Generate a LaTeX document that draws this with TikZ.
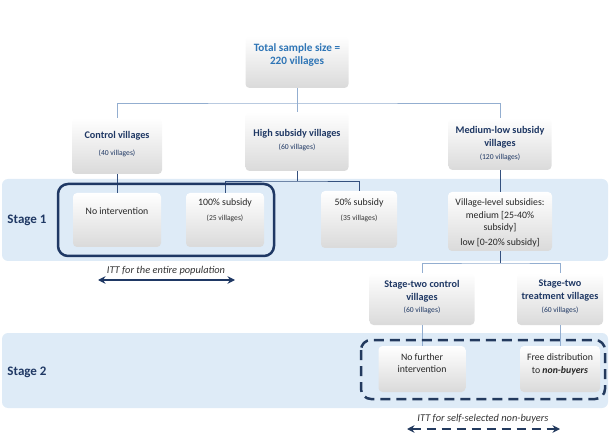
\documentclass[tikz,border=0pt]{standalone}
\usepackage{fontspec}
\setmainfont{Carlito}
\usetikzlibrary{arrows.meta}
\definecolor{navy}{HTML}{1F3864}
\definecolor{navydash}{HTML}{233A5E}
\definecolor{bandblue}{HTML}{DEEBF7}
\definecolor{totalblue}{HTML}{2E75B6}
\definecolor{boxgray}{HTML}{DADADA}
\definecolor{linklight}{HTML}{93AED0}
\definecolor{linkdark}{HTML}{34507E}
\tikzset{
  band/.style={fill=bandblue,rounded corners=6pt},
  vbox/.style={rounded corners=4pt,top color=white,middle color=white,bottom color=boxgray,inner sep=0pt},
  hdr/.style={font=\bfseries\fontsize{10.2}{13}\selectfont,text=navy,align=center,inner sep=0pt},
  sub/.style={font=\fontsize{7.6}{9}\selectfont,text=navy,inner sep=0pt},
  body/.style={font=\fontsize{9.8}{12.5}\selectfont,text=black!85,align=center,inner sep=0pt},
  stagelbl/.style={font=\bfseries\fontsize{13}{15}\selectfont,text=navy,inner sep=0pt},
  itt/.style={font=\itshape\fontsize{10.4}{12}\selectfont,text=black!80,inner sep=0pt},
  toplink/.style={draw=linklight,line width=.8pt},
  link/.style={draw=linkdark,line width=.8pt}
}
\begin{document}
\begin{tikzpicture}[x=1pt,y=-1pt,>={Stealth[length=7.5pt,width=7.5pt]}]
  \useasboundingbox (0,0) rectangle (610,438);
  % stage bands
  \fill[band] (2,179) rectangle (608,261);
  \fill[band] (2,333) rectangle (608,408);
  \node[stagelbl] (stageA) at (27,220) {Stage 1};
  \node[stagelbl] (stageB) at (27,372) {Stage 2};

  % top level
  \node[vbox,minimum width=103pt,minimum height=52pt] (total) at (297,62) {};
  \node[font=\bfseries\fontsize{11.2}{13}\selectfont,text=totalblue,align=center,inner sep=0pt] (totaltxt) at (297,55) {Total sample size =\\220 villages};
  \coordinate (topbar) at (297,103);

  % arms
  \node[vbox,minimum width=90pt,minimum height=56pt] (ctrl) at (117,146) {};
  \node[hdr] (ctrlhd) at (117,136) {Control villages};
  \node[sub] (ctrlsub) at (117,153) {(40 villages)};
  \node[vbox,minimum width=103pt,minimum height=59pt] (high) at (297,141.5) {};
  \node[hdr] (highhd) at (297,134) {High subsidy villages};
  \node[sub] (highsub) at (297,147) {(60 villages)};
  \node[vbox,minimum width=103pt,minimum height=52pt] (medlow) at (500,144) {};
  \node[hdr] (medlowhd) at (500,137.5) {Medium-low subsidy\\villages};
  \node[sub] (medlowsub) at (500,157) {(120 villages)};
  \draw[toplink] (total) -- (topbar);
  \draw[toplink] (ctrl) |- (topbar) -| (medlow);
  \draw[toplink] (topbar) -- (high);

  % stage 1
  \node[vbox,minimum width=88pt,minimum height=54pt] (noint) at (117,220) {};
  \node[body] (nointtxt) at (117,211) {No intervention};
  \node[vbox,minimum width=78pt,minimum height=54pt] (full) at (225,220) {};
  \node[body] (fulltxt) at (225,203) {100\% subsidy};
  \node[sub,text=black!80] (fullsub) at (225,218) {(25 villages)};
  \node[vbox,minimum width=76pt,minimum height=57pt] (half) at (359,219.5) {};
  \node[body] (halftxt) at (359,203) {50\% subsidy};
  \node[sub,text=black!80] (halfsub) at (359,218) {(35 villages)};
  \node[vbox,minimum width=104pt,minimum height=59pt] (vlevel) at (500,221.5) {};
  \node[body] (vleveltxt) at (500,223) {Village-level subsidies:\\medium [25-40\%\\subsidy]\\[2.5pt]low [0-20\% subsidy]};
  \coordinate (hfork) at (297,181);
  \draw[link] (high) -- (hfork);
  \draw[link] (full) |- (hfork) -| (half);
  \draw[link] (ctrl) -- (noint);
  \draw[link] (medlow) -- (vlevel);
  \draw[navy,line width=2.5pt,rounded corners=10pt] (58,184) rectangle (274,256);

  % ITT entire population
  \node[itt] (ittAtxt) at (166,271) {ITT for the entire population};
  \coordinate (ittAl) at (98,280);
  \coordinate (ittAr) at (235,280);
  \draw[<->,navy,line width=2.2pt] (ittAl) -- (ittAr);

  % stage two arms
  \node[vbox,minimum width=105pt,minimum height=52pt] (s2ctrl) at (422,299) {};
  \node[hdr] (s2ctrlhd) at (422,291) {Stage-two control\\villages};
  \node[sub] (s2ctrlsub) at (422,310) {(60 villages)};
  \node[vbox,minimum width=86pt,minimum height=52pt] (s2treat) at (560,299) {};
  \node[hdr] (s2treathd) at (560,291) {Stage-two\\treatment villages};
  \node[sub] (s2treatsub) at (560,310) {(60 villages)};
  \coordinate (vfork) at (500,263);
  \draw[link] (vlevel) -- (vfork);
  \draw[toplink] (s2ctrl) |- (vfork) -| (s2treat);

  % stage 2
  \node[vbox,minimum width=87pt,minimum height=46pt] (nofur) at (422,369) {};
  \node[body] (nofurtxt) at (422,363) {No further\\intervention};
  \node[vbox,minimum width=80pt,minimum height=46pt] (free) at (560,369) {};
  \node[body] (freetxt) at (560,364.5) {Free distribution\\to \textbf{\textit{non-buyers}}};
  \draw[toplink] (s2ctrl) -- (nofur);
  \draw[toplink] (s2treat) -- (free);
  \draw[navydash,line width=2.5pt,dash pattern=on 10pt off 6pt,rounded corners=10pt] (361,340) rectangle (605,399);

  % ITT non-buyers
  \node[itt] (ittBtxt) at (483,419) {ITT for self-selected non-buyers};
  \coordinate (ittBl) at (407,429);
  \coordinate (ittBr) at (560,429);
  \draw[<->,navydash,line width=2.2pt,dash pattern=on 9pt off 6pt] (ittBl) -- (ittBr);
\end{tikzpicture}
\end{document}
